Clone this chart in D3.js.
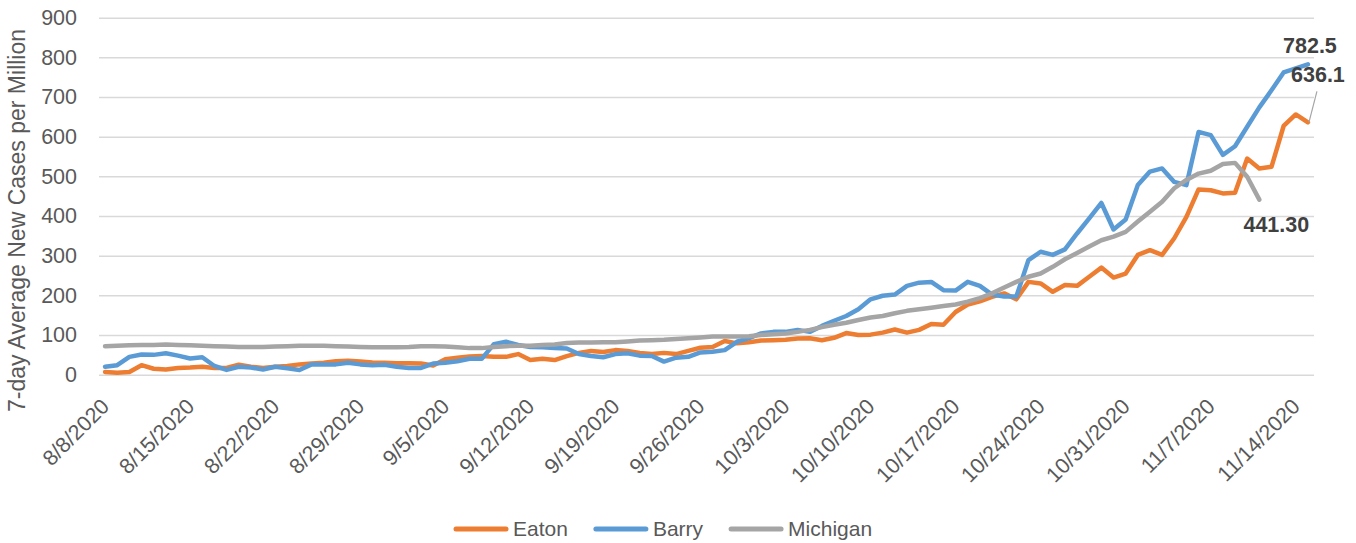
<!DOCTYPE html>
<html>
<head>
<meta charset="utf-8">
<script src="https://cdnjs.cloudflare.com/ajax/libs/d3/7.8.5/d3.min.js"></script>
<style>
  body { margin: 0; background: #fff; }
  .chart text { font-family: "Liberation Sans", Arial, sans-serif; fill: #595959; }
  .grid line { stroke: #d9d9d9; stroke-width: 1.5px; }
  .grid .domain { display: none; }
  .line { fill: none; stroke-width: 4.5px; stroke-linejoin: round; stroke-linecap: round; }
</style>
</head>
<body>
<div class="chart"></div>
<script>
// categories: one per day, 8/8/2020 .. 11/15/2020
var firstDay = new Date(2020, 7, 8);
var lastDay = new Date(2020, 10, 15);
var dates = d3.timeDay.range(firstDay, d3.timeDay.offset(lastDay, 1));

var tickLabels = ["8/8/2020", "8/15/2020", "8/22/2020", "8/29/2020", "9/5/2020",
  "9/12/2020", "9/19/2020", "9/26/2020", "10/3/2020", "10/10/2020", "10/17/2020",
  "10/24/2020", "10/31/2020", "11/7/2020", "11/14/2020"];

var yTicks = [0, 100, 200, 300, 400, 500, 600, 700, 800, 900];

var eaton = [7, 5, 7, 24, 15, 13, 17, 18, 20, 17,
  17, 25, 20, 17, 20, 22, 26, 28, 30, 34,
  35, 33, 31, 30, 29, 29, 28, 23, 39, 43,
  46, 47, 45, 45, 52, 37, 40, 37, 47, 55,
  60, 57, 62, 60, 55, 52, 55, 52, 60, 68,
  70, 85, 79, 82, 86, 87, 88, 91, 92, 87,
  93, 105, 100, 101, 106, 114, 106, 113, 128, 126,
  158, 177, 185, 196, 205, 190, 234, 230, 209, 226,
  224, 247, 270, 245, 255, 302, 314, 302, 344, 398,
  467, 465, 457, 459, 545, 520, 524, 627, 656, 636.1];

var barry = [20, 24, 45, 51, 50, 54, 48, 41, 44, 22,
  12, 20, 18, 13, 20, 16, 12, 26, 26, 26,
  30, 26, 24, 25, 20, 17, 17, 28, 30, 34,
  40, 40, 77, 83, 75, 70, 69, 67, 66, 52,
  47, 44, 52, 54, 48, 47, 33, 43, 45, 56,
  58, 62, 83, 92, 104, 108, 108, 113, 108, 123,
  136, 148, 165, 190, 199, 202, 224, 232, 234, 213,
  212, 234, 224, 202, 197, 197, 289, 310, 302, 316,
  356, 394, 433, 366, 391, 478, 512, 520, 486, 478,
  612, 604, 554, 576, 625, 674, 717, 762, 772, 782.5];

var michigan = [72, 73, 74, 75, 75, 76, 75, 74, 73, 72,
  71, 70, 70, 70, 71, 72, 73, 73, 73, 72,
  71, 70, 69, 69, 69, 70, 72, 72, 71, 69,
  67, 67, 70, 72, 73, 73, 75, 76, 80, 81,
  81, 82, 82, 84, 86, 87, 88, 90, 92, 94,
  96, 96, 96, 97, 100, 102, 104, 108, 113, 120,
  126, 131, 138, 144, 148, 155, 161, 165, 169, 173,
  177, 184, 193, 205, 220, 234, 247, 255, 272, 291,
  307, 323, 339, 348, 360, 386, 411, 436, 470, 491,
  507, 514, 531, 534, 499, 441.30];

var seriesNames = ["Eaton", "Barry", "Michigan"];
var seriesColors = ["#ed7d31", "#5b9bd5", "#a5a5a5"];
var endLabels = ["636.1", "782.5", "441.30"];

var width = 1356, height = 543;
var plot = { left: 99, right: 1314, top: 17.7, bottom: 374.7 };

var svg = d3.select(".chart").append("svg")
  .attr("width", width)
  .attr("height", height);

var x = d3.scalePoint()
  .domain(dates.map(function(d, i) { return i; }))
  .range([plot.left, plot.right])
  .padding(0.5);

var y = d3.scaleLinear()
  .domain([0, 900])
  .range([plot.bottom, plot.top]);

// gridlines + y labels
var yAxis = d3.axisLeft(y)
  .tickValues(yTicks)
  .tickSize(-(plot.right - plot.left))
  .tickPadding(22);

var gy = svg.append("g")
  .attr("class", "grid")
  .attr("transform", "translate(" + plot.left + ",0)")
  .call(yAxis);
gy.selectAll("text")
  .style("font-size", "21.5px")
  .attr("fill", "#595959");

// x labels, every 7th day
var fmt = d3.timeFormat("%-m/%-d/%Y");
var tickIdx = dates.map(function(d, i) { return i; })
  .filter(function(i) { return tickLabels.indexOf(fmt(dates[i])) >= 0; });

var xAxis = d3.axisBottom(x)
  .tickValues(tickIdx)
  .tickSize(0)
  .tickFormat(function(i) { return fmt(dates[i]); });

var gx = svg.append("g")
  .attr("transform", "translate(0," + plot.bottom + ")")
  .call(xAxis);
gx.select(".domain").remove();
gx.selectAll("text")
  .style("font-size", "21.5px")
  .attr("fill", "#595959")
  .style("text-anchor", "end")
  .attr("dy", null)
  .attr("y", 0)
  .attr("transform", "translate(5,33) rotate(-45)");

// y title
svg.append("text")
  .attr("transform", "translate(25," + ((28 + 413) / 2) + ") rotate(-90)")
  .style("text-anchor", "middle")
  .style("font-size", "23px")
  .text("7-day Average New Cases per Million");

// lines
var line = d3.line()
  .x(function(d, i) { return x(i); })
  .y(function(d) { return y(d); });

var allSeries = [eaton, barry, michigan];

svg.selectAll(".line")
  .data(allSeries)
  .enter().append("path")
  .attr("class", "line")
  .attr("stroke", function(d, i) { return seriesColors[i]; })
  .attr("d", line);

// end labels
function lastPt(s) {
  var i = s.length - 1;
  return [x(i), y(s[i])];
}
var pE = lastPt(eaton), pB = lastPt(barry), pM = lastPt(michigan);

svg.append("line")
  .attr("x1", pE[0] + 1).attr("y1", pE[1])
  .attr("x2", pE[0] + 9).attr("y2", pE[1] - 31)
  .attr("stroke", "#a6a6a6")
  .attr("stroke-width", 1.2);

var lbl = [
  { t: endLabels[1], x: pB[0] + 2, y: pB[1] - 11 },
  { t: endLabels[0], x: pE[0] + 10, y: pE[1] - 40 },
  { t: endLabels[2], x: pM[0] + 17, y: pM[1] + 32 }
];
svg.selectAll(".endlbl")
  .data(lbl)
  .enter().append("text")
  .attr("class", "endlbl")
  .attr("x", function(d) { return d.x; })
  .attr("y", function(d) { return d.y; })
  .style("text-anchor", "middle")
  .style("font-size", "21.5px")
  .style("font-weight", "bold")
  .style("fill", "#404040")
  .text(function(d) { return d.t; });

// legend
var legend = svg.append("g").attr("transform", "translate(0,529)");
var lx = 454;
seriesNames.forEach(function(name, i) {
  legend.append("line")
    .attr("x1", lx + 2).attr("x2", lx + 52)
    .attr("y1", 0).attr("y2", 0)
    .attr("stroke", seriesColors[i])
    .attr("stroke-width", 5)
    .attr("stroke-linecap", "round");
  var t = legend.append("text")
    .attr("x", lx + 59)
    .attr("dy", "0.35em")
    .style("font-size", "21px")
    .text(name);
  lx = lx + 59 + t.node().getComputedTextLength() + 26;
});
</script>
</body>
</html>
